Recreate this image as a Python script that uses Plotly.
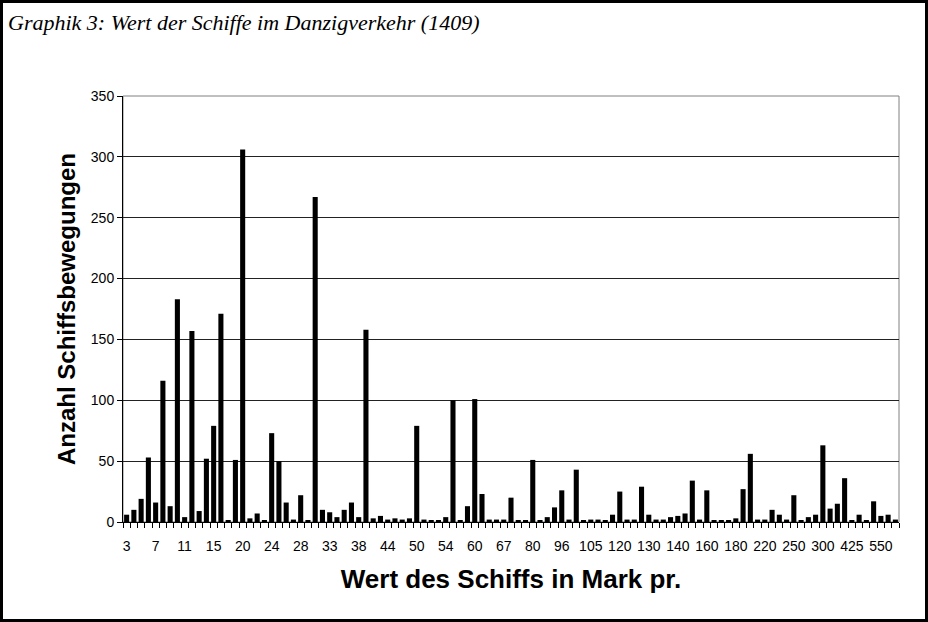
import plotly.graph_objects as go

# Wert des Schiffs (Mark pr.) und Anzahl Schiffsbewegungen, Danzig 1409
wert = ["3", "4", "5", "6", "7", "8", "9", "10", "11", "12", "13", "14", "15", "16",
        "17", "18", "20", "21", "22", "23", "24", "25", "26", "27", "28", "29", "30",
        "32", "33", "34", "35", "36", "38", "40", "41", "42", "44", "45", "46", "48",
        "50", "51", "52", "53", "54", "55", "56", "58", "60", "62", "64", "65", "67",
        "70", "72", "75", "80", "84", "85", "90", "96", "98", "100", "104", "105",
        "108", "110", "115", "120", "124", "125", "128", "130", "132", "135", "136",
        "140", "144", "150", "155", "160", "165", "170", "175", "180", "190", "200",
        "210", "220", "230", "240", "245", "250", "260", "270", "280", "300", "320",
        "350", "400", "425", "450", "500", "525", "550", "600", "700"]
anzahl = [6, 10, 19, 53, 16, 116, 13, 183, 4, 157, 9, 52, 79, 171,
          1, 51, 306, 3, 7, 1, 73, 50, 16, 2, 22, 1, 267,
          10, 8, 4, 10, 16, 4, 158, 3, 5, 2, 3, 2, 3,
          79, 2, 1, 1, 4, 100, 1, 13, 101, 23, 2, 2, 2,
          20, 1, 1, 51, 1, 4, 12, 26, 2, 43, 1, 2,
          2, 1, 6, 25, 2, 2, 29, 6, 2, 2, 4,
          5, 7, 34, 2, 26, 1, 1, 1, 3, 27, 56,
          2, 2, 10, 6, 2, 22, 1, 4, 6, 63, 11,
          15, 36, 1, 6, 1, 17, 5, 6, 2]
beschriftung = ["3", "7", "11", "15", "20", "24", "28", "33", "38", "44", "50", "54",
                "60", "67", "80", "96", "105", "120", "130", "140", "160", "180",
                "220", "250", "300", "425", "550"]

W, H = 928, 622
L, R, T, B = 123, 29, 96, 100
pw, ph = W - L - R, H - T - B

fig = go.Figure()
fig.add_trace(go.Bar(x=wert, y=anzahl, marker=dict(color="black", line_width=0),
                     hoverinfo="x+y"))
# gleiche Daten auf der Beschriftungsachse (unsichtbar), nur fuer die Achse
fig.add_trace(go.Bar(x=wert, y=anzahl, xaxis="x2", marker=dict(opacity=0),
                     hoverinfo="skip", showlegend=False))

rng = [-0.5, len(wert) - 0.5]
fig.update_layout(
    width=W, height=H,
    margin=dict(l=L, r=R, t=T, b=B, autoexpand=False),
    paper_bgcolor="white", plot_bgcolor="white",
    showlegend=False, bargap=0.3,
    font=dict(family="Liberation Sans, Arial", size=14, color="black"),
    title=dict(text="<i>Graphik 3: Wert der Schiffe im Danzigverkehr (1409)</i>",
               font=dict(family="Liberation Serif, Times New Roman", size=22, color="black"),
               xref="container", x=8 / W, xanchor="left",
               yref="container", y=1 - 22 / H, yanchor="middle"),
    xaxis=dict(type="category", categoryorder="array", categoryarray=wert, range=rng,
               tickmode="linear", tick0=0, dtick=1, tickson="boundaries",
               ticks="outside", ticklen=5, tickcolor="black", showticklabels=False,
               showgrid=False, showline=True, linecolor="black", linewidth=1,
               zeroline=False),
    xaxis2=dict(type="category", categoryorder="array", categoryarray=wert, range=rng,
                overlaying="x", anchor="y", side="bottom",
                tickmode="array", tickvals=beschriftung, ticktext=beschriftung,
                ticks="outside", ticklen=11, tickcolor="rgba(0,0,0,0)",
                showgrid=False, showline=False, zeroline=False,
                tickfont=dict(size=14),
                title=dict(text="<b>Wert des Schiffs in Mark pr.</b>",
                           font=dict(size=26), standoff=17)),
    yaxis=dict(range=[0, 350], tickmode="linear", tick0=0, dtick=50,
               ticks="outside", ticklen=5, tickcolor="black",
               showgrid=True, gridcolor="#222", gridwidth=1,
               showline=True, linecolor="black", linewidth=1, zeroline=False,
               tickfont=dict(size=14),
               title=dict(text="<b>Anzahl Schiffsbewegungen</b>",
                          font=dict(size=24), standoff=8)),
    shapes=[
        # grauer Rahmen der Zeichenflaeche (oben, rechts)
        dict(type="rect", xref="paper", yref="paper", x0=0, x1=1, y0=0, y1=1,
             line=dict(color="#808080", width=1), layer="below"),
        # schwarzer Rahmen um die ganze Grafik
        dict(type="rect", xref="paper", yref="paper",
             x0=(1.5 - L) / pw, x1=(W - 1.5 - L) / pw,
             y0=(ph + T - (H - 1.5)) / ph, y1=(ph + T - 1.5) / ph,
             line=dict(color="black", width=3)),
    ],
)

fig.write_html("out.html", config={"displayModeBar": False},
               post_script="document.body.style.margin='0';")
